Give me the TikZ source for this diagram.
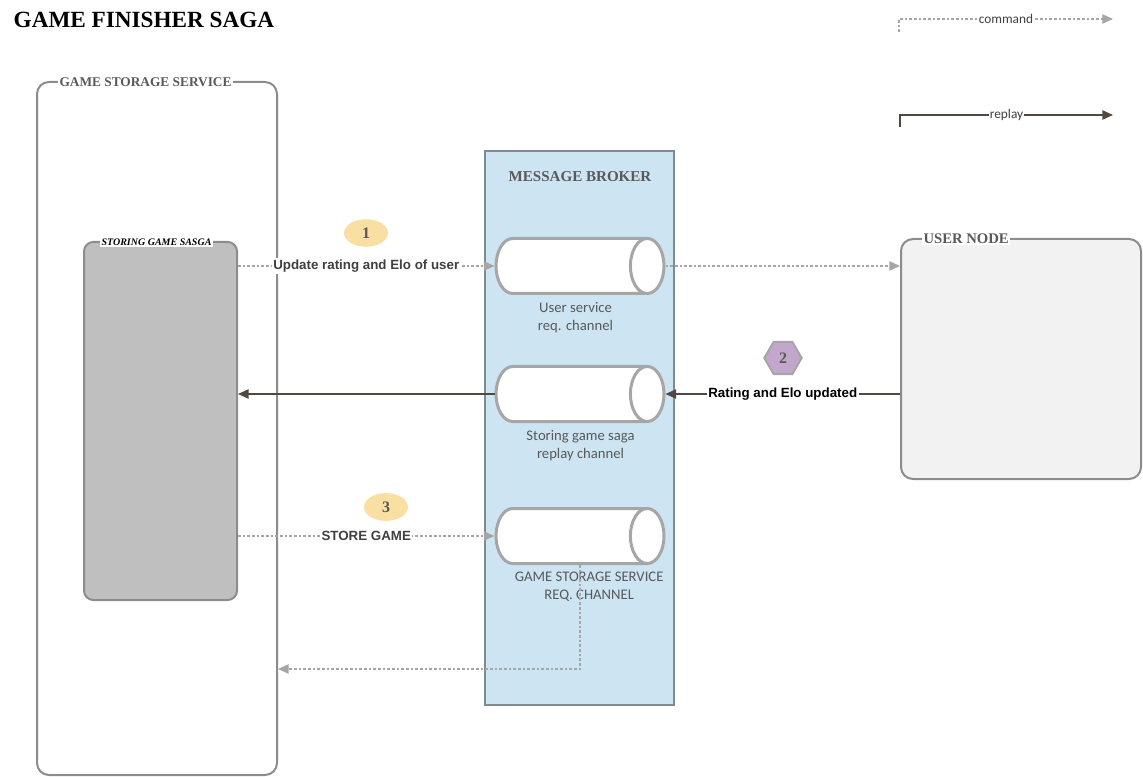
\documentclass[tikz,border=0pt]{standalone}
\usepackage{fontspec}
\setmainfont{Liberation Serif}
\newfontfamily\lblfont{Liberation Sans}
\newfontfamily\chfont{Carlito}
\usetikzlibrary{positioning,shapes.geometric,arrows.meta}

\definecolor{boxgray}{HTML}{8C8C8C}
\definecolor{sagafill}{HTML}{BFBFBF}
\definecolor{userfill}{HTML}{F2F2F2}
\definecolor{brokerfill}{HTML}{CDE5F2}
\definecolor{brokerline}{HTML}{808A93}
\definecolor{cylgray}{HTML}{A6A6A6}
\definecolor{rplcol}{HTML}{4F4843}
\definecolor{titlegray}{HTML}{595959}
\definecolor{lbltext}{HTML}{404040}
\definecolor{badgeor}{HTML}{F9DFA1}
\definecolor{badgepu}{HTML}{C3A6CB}

\tikzset{
  cmd/.style={draw=cylgray, line width=1.1pt, dash pattern=on 2pt off 1.5pt, -{Triangle[length=8pt,width=7pt]}},
  rpl/.style={draw=rplcol, line width=1.1pt, -{Triangle[length=8pt,width=7pt]}},
  lbl/.style={fill=white, inner sep=1pt, text=lbltext, font=\lblfont\bfseries\fontsize{10}{12}\selectfont},
  leg/.style={fill=white, inner sep=0.5pt, text=lbltext, font=\chfont\fontsize{10}{11}\selectfont},
}

\begin{document}
\begin{tikzpicture}[x=0.75pt,y=-0.75pt]
  \useasboundingbox (0,0) rectangle (1143,777);

  \node[anchor=west, font=\fontsize{17.4}{20}\selectfont\bfseries] (title) at (9,20) {GAME FINISHER SAGA};

  % containers
  \begin{scope}[every node/.style={rectangle, rounded corners=9pt, draw=boxgray, line width=1.5pt}]
    \node[minimum width=180pt, minimum height=519.75pt] (gss) at (157,428.5) {};
    \node[fill=sagafill, rounded corners=7pt, minimum width=114.75pt, minimum height=268.5pt] (sgs) at (160.5,421) {};
    \node[fill=userfill, minimum width=180pt, minimum height=180pt] (un) at (1021,359) {};
    \node[fill=brokerfill, draw=brokerline, sharp corners, minimum width=141.75pt, minimum height=415.5pt] (mb) at (579.5,428) {};
  \end{scope}

  \begin{scope}[every node/.style={fill=white, inner sep=1pt, text=titlegray, font=\fontsize{10}{12}\selectfont\bfseries}]
    \node[anchor=west] (gsst) at (58,82) {GAME STORAGE SERVICE};
    \node[anchor=west, font=\fontsize{11}{13}\selectfont\bfseries] (unt) at (922,239) {USER NODE};
    \node[anchor=west, text=black, font=\fontsize{7.5}{9}\selectfont\bfseries\itshape] (sgst) at (100,242) {STORING GAME SASGA};
  \end{scope}
  \node[text=titlegray, font=\fontsize{11.3}{13}\selectfont\bfseries] (mbt) at (580,177) {MESSAGE BROKER};

  % channels
  \begin{scope}[every node/.style={cylinder, anchor=shape center, draw=cylgray, line width=2.25pt, fill=white, inner sep=18pt, aspect=0.7, minimum width=41.25pt, minimum height=126pt}]
    \node (c1) at (580,266) {};
    \node (c2) at (580,394) {};
    \node (c3) at (580,536) {};
  \end{scope}

  \begin{scope}[every node/.style={align=center, text=titlegray, font=\chfont\fontsize{11}{13.5}\selectfont}]
    \node[below=2pt of c1.south, anchor=north, xshift=9.75pt] (c1l) {User service\\req. channel};
    \node[below=2pt of c2.south, anchor=north, xshift=13.5pt] (c2l) {Storing game saga\\replay channel};
    \node[below=2pt of c3.south, anchor=north, xshift=20pt] (c3l) {GAME STORAGE SERVICE\\REQ. CHANNEL};
  \end{scope}

  % steps
  \begin{scope}[every node/.style={text=titlegray, font=\fontsize{12}{14}\selectfont\bfseries}]
    \node[ellipse, fill=badgeor, minimum width=33pt, minimum height=19.5pt] (b1) at (366,233) {1};
    \node[regular polygon, regular polygon sides=6, fill=badgepu, draw=cylgray, line width=1.5pt, minimum size=28pt, inner sep=0pt] (b2) at (783,358) {2};
    \node[ellipse, fill=badgeor, minimum width=33pt, minimum height=19.5pt] (b3) at (386,507) {3};
  \end{scope}

  % messages
  \draw[cmd] (sgs.east |- c1.west) -- node[lbl] {Update rating and Elo of user} (c1.west);
  \draw[cmd] (c1.east) -- (un.west |- c1.east);
  \draw[rpl] (un.west |- c2.east) -- node[lbl, text=black] {Rating and Elo updated} (c2.east);
  \draw[rpl] (c2.west) -- (sgs.east |- c2.west);
  \draw[cmd] (sgs.east |- c3.west) -- node[lbl] {STORE GAME} (c3.west);
  \coordinate (back) at (0,669);
  \draw[cmd] (c3.shape center |- c3.south) |- (gss.east |- back);

  % legend
  \coordinate (cmdA) at (899,32);
  \coordinate (cmdB) at (1113,19);
  \draw[cmd, line width=0.9pt] (cmdA) |- node[pos=0.75, leg] {command} (cmdB);
  \coordinate (rplA) at (900,127);
  \coordinate (rplB) at (1113,115);
  \draw[rpl] (rplA) |- node[pos=0.75, leg] {replay} (rplB);
\end{tikzpicture}
\end{document}
